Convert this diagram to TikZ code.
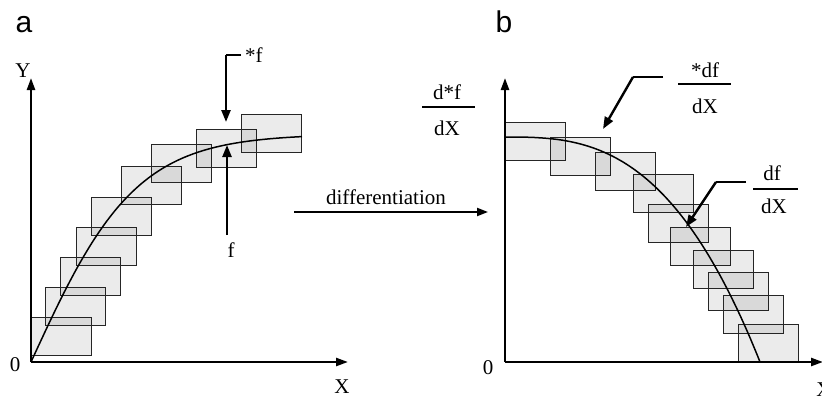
\documentclass[tikz,border=0pt]{standalone}
\usepackage{fontspec}
\setmainfont{Liberation Serif}
\newfontfamily\panelfont{Liberation Sans}
\usetikzlibrary{arrows.meta}
\tikzset{
  fbox/.style={draw=black!85, line width=1.2pt, fill=black, fill opacity=0.08, text opacity=1,
    minimum width=60pt, minimum height=38pt, inner sep=0pt, anchor=north west},
  axis/.style={line width=2.4pt, -{Triangle[length=12pt,width=8pt]}},
  pointer/.style={line width=2.4pt, -{Triangle[length=12pt,width=9pt]}},
  leader/.style={line width=1.4pt},
  curve/.style={line width=1.5pt},
  lab/.style={font=\fontsize{21}{25}\selectfont, inner sep=0pt},
  panel/.style={font=\panelfont\fontsize{30}{34}\selectfont, inner sep=0pt, anchor=base},
  fracbar/.style={line width=1.2pt}
}
\begin{document}
\begin{tikzpicture}[x=1pt,y=-1pt]
\useasboundingbox (0,0) rectangle (822,397);

% ---------------- panel a ----------------
\node[panel] (pa) at (24,32) {a};
\coordinate (oa) at (31,362);
\coordinate (ya) at (31,78);
\coordinate (xa) at (348,362);
\node[fbox] (a1) at (31,317) {};
\node[fbox] (a2) at (45,287) {};
\node[fbox] (a3) at (60,257) {};
\node[fbox] (a4) at (76,227) {};
\node[fbox] (a5) at (91,197) {};
\node[fbox] (a6) at (121,166) {};
\node[fbox] (a7) at (151,144) {};
\node[fbox] (a8) at (196,129) {};
\node[fbox] (a9) at (241,114) {};
\draw[curve] plot[domain=0:271, samples=80, smooth] ({31+\x}, {362-228*tanh(\x/105)});
\draw[axis] (oa) -- (ya);
\draw[axis] (oa) -- (xa);
\node[lab] (Ya) at (23,71) {Y};
\node[lab] (Za) at (15,365) {0};
\node[lab] (Xa) at (342,387) {X};

% *f and f pointers
\node[lab, anchor=base west] (sf) at (245,62) {*f};
\coordinate (sfk) at (226,55);
\coordinate (sfe) at (241,55);
\coordinate (sft) at (226,122);
\draw[leader] (sfe) -- (sfk);
\draw[pointer] (sfk) -- (sft);
\node[lab] (fa) at (231,250) {f};
\coordinate (fs) at (227,235);
\coordinate (ft) at (227,145);
\draw[pointer] (fs) -- (ft);

% differentiation arrow
\node[lab] (diff) at (386,197) {differentiation};
\coordinate (ds) at (294,212);
\coordinate (de) at (488,212);
\draw[line width=2pt, -{Triangle[length=11pt,width=8pt]}] (ds) -- (de);

% ---------------- panel b ----------------
\node[panel] (pb) at (504,32) {b};
\coordinate (ob) at (505,362);
\coordinate (yb) at (505,78);
\coordinate (xb) at (823,362);
\node[fbox] (b1) at (505,122) {};
\node[fbox] (b2) at (550,137) {};
\node[fbox] (b3) at (595,152) {};
\node[fbox] (b4) at (633,174) {};
\node[fbox] (b5) at (648,204) {};
\node[fbox] (b6) at (670,227) {};
\node[fbox] (b7) at (693,250) {};
\node[fbox] (b8) at (708,272) {};
\node[fbox] (b9) at (723,295) {};
\node[fbox] (b10) at (738,324) {};
\draw[curve] plot[domain=0:255, samples=80, smooth] ({505+\x}, {362-225*(1-pow(\x/255,2.85))});
\draw[axis] (ob) -- (yb);
\draw[axis] (ob) -- (xb);
\node[lab] (Zb) at (488,368) {0};
\node[lab] (Xb) at (824,390) {X};

% d*f / dX
\node[lab, anchor=base] (n1) at (447,99) {d*f};
\node[lab, anchor=base] (d1) at (447,135) {dX};
\coordinate (f1l) at (422,107);
\coordinate (f1r) at (475,107);
\draw[fracbar] (f1l) -- (f1r);

% *df / dX
\node[lab, anchor=base] (n2) at (705,77) {*df};
\node[lab, anchor=base] (d2) at (705,113) {dX};
\coordinate (f2l) at (678,84);
\coordinate (f2r) at (731,84);
\draw[fracbar] (f2l) -- (f2r);
\coordinate (p2e) at (663,77);
\coordinate (p2k) at (633,77);
\coordinate (p2t) at (603,129);
\draw[leader] (p2e) -- (p2k);
\draw[pointer] (p2k) -- (p2t);

% df / dX
\node[lab, anchor=base] (n3) at (772,180) {df};
\node[lab, anchor=base] (d3) at (774,213) {dX};
\coordinate (f3l) at (753,189);
\coordinate (f3r) at (798,189);
\draw[fracbar] (f3l) -- (f3r);
\coordinate (p3e) at (746,182);
\coordinate (p3k) at (716,182);
\coordinate (p3t) at (686,227);
\draw[leader] (p3e) -- (p3k);
\draw[pointer] (p3k) -- (p3t);
\end{tikzpicture}
\end{document}
